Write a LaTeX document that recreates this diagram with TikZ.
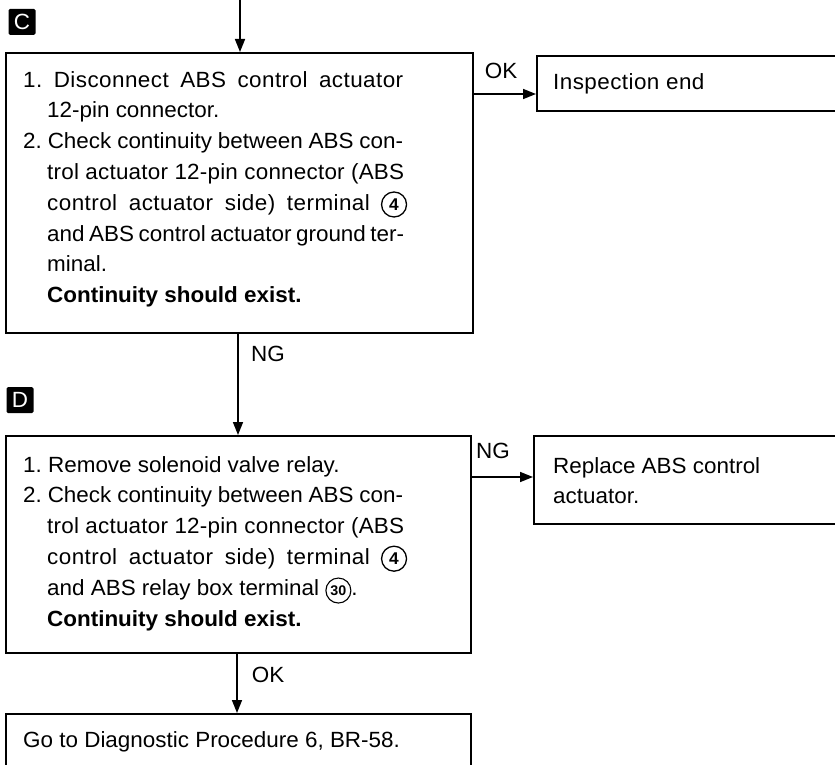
\documentclass[tikz,border=0pt]{standalone}
\usepackage{fontspec}
\setmainfont[FakeStretch=1.02]{Liberation Sans}
\usetikzlibrary{arrows.meta}
\newcommand\cnum[1]{\tikz[baseline=(cn.base)]\node[circle,draw,line width=1.3pt,inner sep=0pt,minimum size=25pt,font=\fontsize{17}{17}\bfseries\selectfont](cn){#1};}
\newcommand\cnumsmall[1]{\tikz[baseline=(cn.base)]\node[circle,draw,line width=1.1pt,inner sep=0pt,minimum size=25pt,font=\fontsize{14}{14}\bfseries\selectfont](cn){#1};}
\newcommand\ind{\hspace*{24pt}}
\newcommand\jfirst[1]{\makebox[380pt][s]{#1}}
\newcommand\jcont[1]{\ind\makebox[357pt][s]{#1}}
\newcommand\jterm[1]{\ind\makebox[360pt][s]{#1}}
\newcommand\lsp[2]{{\addfontfeatures{LetterSpace=#1}#2}}
\begin{document}
\begin{tikzpicture}[x=1pt,y=-1pt,
  box/.style={draw,line width=1.6pt,anchor=north west,inner sep=0pt},
  txt/.style={anchor=north west,inner sep=0pt,align=left,font=\fontsize{22}{30.8}\selectfont},
  lbl/.style={inner sep=0pt,font=\fontsize{22}{26}\selectfont},
  tag/.style={fill=black,text=white,minimum width=27pt,minimum height=26pt,inner sep=0pt,rounded corners=1.5pt,font=\fontsize{22}{22}\selectfont},
  arr/.style={line width=1.6pt,-{Triangle[length=13pt,width=10pt]}}]
\useasboundingbox (0,0) rectangle (835,765);
% tags
\node[tag] (tagc) at (22,22) {C};
\node[tag] (tagd) at (20,400) {D};
% boxes
\node[box,minimum width=467pt,minimum height=280pt] (bc) at (5,52) {};
\node[box,minimum width=320pt,minimum height=55pt] (ins) at (536,55) {};
\node[box,minimum width=465pt,minimum height=217pt] (bd) at (5,435) {};
\node[box,minimum width=320pt,minimum height=88pt] (rep) at (533,435) {};
\node[box,minimum width=465pt,minimum height=70pt] (go) at (5,713) {};
% texts
\node[txt] (tc) at (23,71) {\jfirst{\lsp{2}{1.~Disconnect ABS control actuator}}\\
\ind 12-pin connector.\\
\jfirst{2.~Check continuity between ABS con-}\\
\jcont{\lsp{1}{trol actuator 12-pin connector (ABS}}\\
\jterm{\lsp{2}{control actuator side) terminal} \cnum{4}}\\
\jcont{and ABS control actuator ground ter-}\\
\ind minal.\\
\ind\textbf{Continuity should exist.}};
\node[txt] (tins) at (553,73) {\lsp{2}{Inspection end}};
\node[txt] (td) at (23,456) {1.~Remove solenoid valve relay.\\
\jfirst{2.~Check continuity between ABS con-}\\
\jcont{\lsp{1}{trol actuator 12-pin connector (ABS}}\\
\jterm{\lsp{2}{control actuator side) terminal} \cnum{4}}\\
\ind and ABS relay box terminal \cnumsmall{30}.\\
\ind\textbf{Continuity should exist.}};
\node[txt] (trep) at (553,457) {Replace ABS control\\actuator.};
\node[txt] (tgo) at (23,731) {Go to Diagnostic Procedure 6, BR-58.};
% connectors
\coordinate (top) at (240,0);
\draw[arr] (top) -- (top |- bc.north);
\coordinate (okc) at (472,94);
\draw[arr] (okc) -- (okc -| ins.west);
\node[lbl] (lok1) at (501,71) {OK};
\coordinate (ngc) at (238,332);
\draw[arr] (ngc) -- (ngc |- bd.north);
\node[lbl] (lng1) at (268,354) {NG};
\coordinate (ngd) at (470,477);
\draw[arr] (ngd) -- (ngd -| rep.west);
\node[lbl] (lng2) at (493,451) {NG};
\coordinate (okd) at (237,652);
\draw[arr] (okd) -- (okd |- go.north);
\node[lbl] (lok2) at (268,675) {OK};
\end{tikzpicture}
\end{document}
